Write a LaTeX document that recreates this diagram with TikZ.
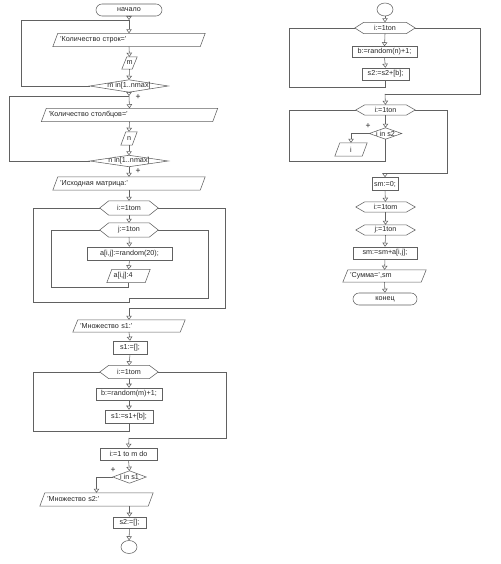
\documentclass[tikz,border=0pt]{standalone}
\usepackage{fontspec}
\setmainfont{Liberation Sans}
\usetikzlibrary{arrows.meta,shapes.geometric}
\tikzset{
  ln/.style={draw=black!62, line width=0.55pt},
  arr/.style={ln, -{Triangle[open, width=5.5pt, length=4pt]}},
  base/.style={inner sep=0pt, font=\fontsize{7.2}{8}\selectfont, text=black!85},
  proc/.style={base, rectangle, ln, minimum width=#1, minimum height=13pt},
  term/.style={base, rectangle, ln, rounded corners=6pt, minimum width=#1, minimum height=12pt},
  conn/.style={base, ellipse, ln, minimum width=16pt, minimum height=13pt},
  io/.style={base, rectangle, minimum width=#1, minimum height=13pt, align=left,
    append after command={\pgfextra{\draw[ln] (\tikzlastnode.south west) -- ([xshift=-5pt]\tikzlastnode.south east) -- (\tikzlastnode.north east) -- ([xshift=5pt]\tikzlastnode.north west) -- cycle;}}},
  hexa/.style={base, rectangle, minimum width=#1, minimum height=14pt,
    append after command={\pgfextra{\draw[ln] (\tikzlastnode.west) -- ([xshift=9pt]\tikzlastnode.north west) -- ([xshift=-9pt]\tikzlastnode.north east) -- (\tikzlastnode.east) -- ([xshift=-9pt]\tikzlastnode.south east) -- ([xshift=9pt]\tikzlastnode.south west) -- cycle;}}},
  dia/.style={base, rectangle, minimum width=#1, minimum height=12pt,
    append after command={\pgfextra{\draw[ln] (\tikzlastnode.west) -- (\tikzlastnode.north) -- (\tikzlastnode.east) -- (\tikzlastnode.south) -- cycle;}}},
  plus/.style={base, font=\fontsize{8.5}{9}\selectfont}
}
\begin{document}
\begin{tikzpicture}[x=1pt,y=-1pt]
\fill[white] (0,0) rectangle (500,564);
\useasboundingbox (0,0) rectangle (500,564);

% ---------- left column ----------
\node[term=66pt] (start) at (129,10) {начало};
\coordinate (j1) at (129,20);
\node[io=152pt, text width=138pt] (io1) at (129,40) {'Количество строк='};
\node[io=15pt, minimum height=12pt] (iom) at (129.5,63) {m};
\node[dia=78pt] (d1) at (129,86) {m in[1..nmax]};
\node[plus] (p1) at (138,97) {+};
\coordinate (j2) at (129,96);
\node[io=176pt, text width=162pt] (io2) at (129.5,115) {'Количество столбцов='};
\node[io=16pt] (ion) at (129,138.5) {n};
\node[dia=78pt, minimum height=11pt] (d2) at (129,161) {n in[1..nmax]};
\node[plus] (p2) at (138,171) {+};
\node[io=152pt, text width=138pt] (io3) at (129,183.5) {'Исходная матрица:'};
\node[hexa=58pt] (ih1) at (129,208) {i:=1tom};
\node[hexa=58pt] (jh1) at (129,230) {j:=1ton};
\node[proc=85pt] (a1) at (129.5,253.5) {a[i,j]:=random(20);};
\node[io=43pt, text width=30pt] (a2) at (128.5,276) {a[i,j]:4};
\coordinate (jx) at (129,298);
\coordinate (ox2) at (129,308);
\node[io=112pt, text width=98pt, minimum height=12pt] (io4) at (129,326) {'Множество s1:'};
\node[proc=34pt] (s1) at (130,347.5) {s1:=[];};
\node[hexa=58pt, minimum height=13pt] (ih2) at (129,372) {i:=1tom};
\node[proc=66pt, minimum height=12pt] (b1) at (129,394) {b:=random(m)+1;};
\node[proc=48pt] (s1b) at (129,416.5) {s1:=s1+[b];};
\coordinate (ox3) at (129,438);
\node[proc=57pt, minimum height=12pt] (todo) at (128.5,454) {i:=1 to m do};
\node[dia=33pt] (d3) at (129.5,477) {i in s1};
\node[plus] (p3) at (113,470) {+};
\node[io=113pt, text width=99pt] (io5) at (96.5,499.5) {'Множество s2:'};
\node[proc=33pt, minimum height=11pt] (s2) at (129.5,522.5) {s2:=[];};
\node[conn] (c1) at (129,547) {};

\draw[arr] (start.south) -- (j1);
\draw[arr] (j1) -- (io1.north);
\draw[arr] (io1.south) -- (iom.north);
\draw[arr] (iom.south) -- (d1.north);
\draw[ln] (d1.west) -- ++(-69,0) |- (j1);
\draw[arr] (d1.south) -- (j2);
\draw[arr] (j2) -- (io2.north);
\draw[arr] (io2.south) -- (ion.north);
\draw[arr] (ion.south) -- (d2.north);
\draw[ln] (d2.west) -- ++(-81,0) |- (j2);
\draw[arr] (d2.south) -- (io3.north);
\draw[arr] (io3.south) -- (ih1.north);
\draw[arr] (ih1.south) -- (jh1.north);
\draw[arr] (jh1.south) -- (a1.north);
\draw[arr] (a1.south) -- (a2.north);
\draw[ln] (a2.south) -- ++(0,5) -| ([xshift=-49pt]jh1.west) -- (jh1.west);
\draw[ln] (jh1.east) -- ++(50,0) |- (jx);
\draw[ln] (jx) -- ++(0,4) -| ([xshift=-67pt]ih1.west) -- (ih1.west);
\draw[ln] (ih1.east) -- ++(67,0) |- (ox2);
\draw[arr] (ox2) -- (io4.north);
\draw[arr] (io4.south) -- (s1.north);
\draw[arr] (s1.south) -- (ih2.north);
\draw[arr] (ih2.south) -- (b1.north);
\draw[arr] (b1.south) -- (s1b.north);
\draw[ln] (s1b.south) -- ++(0,8) -| ([xshift=-67pt]ih2.west) -- (ih2.west);
\draw[ln] (ih2.east) -- ++(68,0) |- (ox3);
\draw[arr] (ox3) -- (todo.north);
\draw[arr] (todo.south) -- (d3.north);
\draw[arr] (d3.west) -| (io5.north);
\draw[arr] (io5.south -| s2.north) -- (s2.north);
\draw[arr] (s2.south) -- (c1.north);

% ---------- right column ----------
\node[conn] (c2) at (385,9.5) {};
\node[hexa=60pt, minimum height=11pt] (rh1) at (385,28) {i:=1ton};
\node[proc=65pt, minimum height=11pt] (b2) at (384.5,52) {b:=random(n)+1;};
\node[proc=47pt, minimum height=12pt] (s2b) at (385.5,74) {s2:=s2+[b];};
\coordinate (rx1) at (385,94);
\node[hexa=59pt, minimum height=10pt] (rh2) at (385.5,110) {i:=1ton};
\node[dia=32pt, minimum height=11pt] (d4) at (385.5,133.5) {i in s2};
\node[plus] (p4) at (368,126) {+};
\node[io=32pt] (io6) at (351,149.5) {i};
\coordinate (rx2) at (385,173);
\node[proc=26pt, minimum height=13pt] (sm0) at (385,184) {sm:=0;};
\node[hexa=59pt, minimum height=10pt] (rh3) at (385.5,207) {i:=1tom};
\node[hexa=59pt, minimum height=10pt] (rh4) at (385.5,230) {j:=1ton};
\node[proc=64pt, minimum height=12pt] (smb) at (385,253) {sm:=sm+a[i,j];};
\node[io=83pt, text width=69pt, minimum height=12pt] (io7) at (384.5,276) {'Сумма=',sm};
\node[term=64pt] (endt) at (385,299) {конец};

\draw[arr] (c2.south) -- (rh1.north);
\draw[arr] (rh1.south) -- (b2.north);
\draw[arr] (b2.south) -- (s2b.north);
\draw[ln] (s2b.south) -- ++(0,7) -| ([xshift=-66pt]rh1.west) -- (rh1.west);
\draw[ln] (rh1.east) -- ++(65,0) |- (rx1);
\draw[arr] (rx1) -- (rh2.north);
\draw[arr] (rh2.south) -- (d4.north);
\draw[arr] (d4.west) -| (io6.north);
\draw[ln] (d4.south) -- ++(0,22) -| ([xshift=-67pt]rh2.west) -- (rh2.west);
\draw[ln] (rh2.east) -- ++(32,0) |- (rx2);
\draw[arr] (rx2) -- (sm0.north);
\draw[arr] (sm0.south) -- (rh3.north);
\draw[arr] (rh3.south) -- (rh4.north);
\draw[arr] (rh4.south) -- (smb.north);
\draw[arr] (smb.south) -- (io7.north);
\draw[arr] (io7.south) -- (endt.north);
\end{tikzpicture}
\end{document}
